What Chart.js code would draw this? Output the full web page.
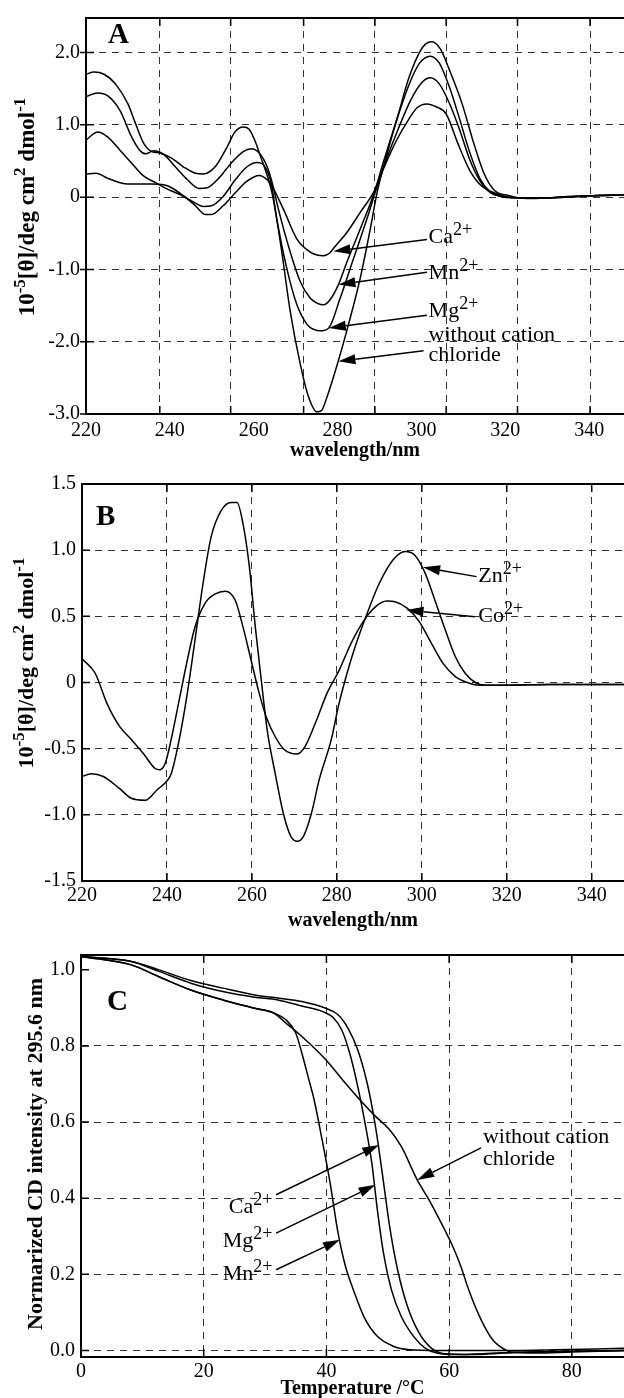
<!DOCTYPE html>
<html lang="en">
<head>
<meta charset="UTF-8" />
<title>CD spectra and melting curves</title>
<script src="https://cdn.jsdelivr.net/npm/chart.js"></script>
<style>
  body { margin: 0; background: #fff; overflow: hidden; }
  #page { position: relative; width: 624px; height: 1398px; }
  canvas { position: absolute; left: 0; }
</style>
</head>
<body>
<div id="page">
  <canvas id="chartA" width="624" height="465" style="top:0px"></canvas>
  <canvas id="chartB" width="624" height="470" style="top:465px"></canvas>
  <canvas id="chartC" width="624" height="470" style="top:935px"></canvas>
</div>
<script>
// ---------- panel A : CD spectra with Ca / Mn / Mg / no cation ----------
const aTicksX = [220, 240, 260, 280, 300, 320, 340];
const aGridX = [237.6, 254.5, 271.9, 288.9, 305.9, 322.9, 340.2];
const aTicksY = [-3, -2, -1, 0, 1, 2];
const aLabelsY = ['-3.0', '-2.0', '-1.0', '0', '1.0', '2.0'];

const aNoneX = [220, 221.9, 224.3, 227.1, 230, 231.8, 233.8, 235.7, 237.6, 240.4, 243.2, 246.1, 248, 250.8, 253.7, 255.5, 257.5, 258.9, 260.3, 261.7, 263.2, 264.4, 265.1, 266.7, 268.7, 271.1, 273, 275.1, 276.2, 277.5, 280.2, 282.6, 285.4, 287.8, 289.4, 291.8, 294.5, 297, 299.5, 301, 302.5, 304.5, 306.8, 309.7, 312.5, 314.9, 317.3, 321, 323, 326, 330, 335, 340, 348.3];
const aNoneY = [1.70, 1.73, 1.70, 1.56, 1.29, 1.02, 0.74, 0.63, 0.61, 0.54, 0.42, 0.33, 0.32, 0.42, 0.70, 0.90, 0.97, 0.94, 0.78, 0.55, 0.30, 0.05, -0.17, -0.76, -1.58, -2.31, -2.75, -2.97, -2.95, -2.76, -2.26, -1.76, -1.12, -0.44, 0.06, 0.60, 1.15, 1.65, 2.00, 2.12, 2.15, 2.05, 1.74, 1.29, 0.74, 0.33, 0.10, 0.02, -0.01, -0.02, -0.01, 0.01, 0.02, 0.03];

const aMnX = [220, 222.8, 225.2, 228.1, 230.9, 232.8, 234.2, 236.1, 238.5, 241.3, 244.2, 247, 248.9, 251.8, 254.6, 257.5, 259.4, 261.3, 263.2, 264.4, 265.9, 268.7, 271.1, 273.5, 275.2, 276.7, 278.2, 280.2, 282.2, 285.4, 288.6, 291, 294, 297, 299.5, 302.1, 304.3, 306.5, 309, 311.5, 314, 316.5, 319, 323, 330, 340, 348.3];
const aMnY = [1.39, 1.44, 1.40, 1.20, 0.83, 0.65, 0.60, 0.64, 0.59, 0.42, 0.24, 0.12, 0.13, 0.27, 0.47, 0.63, 0.67, 0.61, 0.42, 0.20, -0.17, -0.76, -1.17, -1.40, -1.47, -1.49, -1.42, -1.21, -0.90, -0.44, 0.04, 0.50, 1.05, 1.55, 1.85, 1.95, 1.85, 1.55, 1.10, 0.62, 0.25, 0.07, 0.01, -0.01, -0.01, 0.02, 0.03];

const aMgX = [220, 222.8, 225.2, 228.1, 230.9, 233.8, 236.6, 239.4, 242.3, 245.1, 248, 249.9, 252.7, 255.6, 258.4, 260.8, 262.7, 264.2, 265.5, 267.9, 270.3, 272.7, 274.3, 275.9, 277.9, 280.6, 283.8, 287, 289, 291.5, 294.5, 297.5, 300, 302.1, 304.2, 306.5, 309, 311.5, 314, 316.5, 319, 323, 330, 340, 348.3];
const aMgY = [0.79, 0.90, 0.83, 0.65, 0.47, 0.29, 0.20, 0.11, 0.04, -0.05, -0.13, -0.12, 0.01, 0.24, 0.42, 0.48, 0.42, 0.18, -0.30, -0.99, -1.49, -1.76, -1.83, -1.85, -1.81, -1.40, -0.85, -0.30, 0.07, 0.50, 0.95, 1.35, 1.58, 1.65, 1.57, 1.32, 0.95, 0.52, 0.22, 0.06, 0.01, -0.01, -0.01, 0.02, 0.03];

const aCaX = [220, 222.4, 225.2, 228.1, 230, 232.8, 235.7, 238.5, 240.4, 243.2, 246.1, 248.5, 249.9, 252.7, 255.6, 258.4, 261.3, 263.2, 264.4, 267.1, 270.3, 273.5, 275.1, 276.6, 278.2, 279, 282.2, 285.4, 288.6, 291, 294, 297, 299, 301.3, 303.5, 305.9, 308.7, 311.6, 314.4, 317.3, 320, 323, 330, 340, 348.3];
const aCaY = [0.32, 0.33, 0.26, 0.20, 0.18, 0.18, 0.18, 0.17, 0.13, 0.02, -0.12, -0.24, -0.24, -0.12, 0.06, 0.22, 0.30, 0.24, 0.15, -0.17, -0.58, -0.76, -0.80, -0.81, -0.77, -0.71, -0.49, -0.21, 0.07, 0.40, 0.78, 1.08, 1.24, 1.29, 1.25, 1.15, 0.74, 0.36, 0.15, 0.06, 0.01, -0.01, -0.01, 0.02, 0.03];

// ---------- panel B : CD spectra with Zn / Co ----------
const bTicksX = [220, 240, 260, 280, 300, 320, 340];
const bTicksY = [-1.5, -1, -0.5, 0, 0.5, 1, 1.5];
const bLabelsY = ['-1.5', '-1.0', '-0.5', '0', '0.5', '1.0', '1.5'];

const bZnX = [220, 222.2, 225, 228.8, 231.6, 234.9, 237.7, 240.1, 241, 242.9, 244.8, 246.6, 248.5, 250.4, 252.8, 255.1, 256.5, 257.9, 259.4, 260.8, 262.2, 263.6, 265.5, 267.4, 269.2, 270.7, 272.1, 274, 275.8, 278.7, 280.5, 282.4, 284.3, 287.1, 290, 293.3, 296.1, 298.4, 300.8, 303.1, 305.5, 307.9, 310.2, 312.6, 314.9, 320, 330, 340, 347.6];
const bZnY = [-0.71, -0.69, -0.71, -0.80, -0.875, -0.89, -0.81, -0.74, -0.69, -0.43, -0.08, 0.32, 0.75, 1.10, 1.30, 1.36, 1.36, 1.20, 0.875, 0.42, 0.02, -0.36, -0.69, -0.99, -1.165, -1.20, -1.165, -0.99, -0.74, -0.43, -0.16, 0.07, 0.27, 0.52, 0.75, 0.93, 0.99, 0.96, 0.825, 0.62, 0.40, 0.195, 0.07, 0.0, -0.02, -0.02, -0.015, -0.015, -0.015];

const bCoX = [220, 223.1, 225.9, 228.8, 231.6, 234.4, 237.2, 238.2, 239.6, 241, 242.9, 244.8, 246.6, 249, 251.4, 253.7, 256.1, 257.9, 259.8, 261.7, 263.6, 265.5, 267.4, 269.2, 270.7, 272.5, 274.9, 277.7, 280.5, 283.4, 286.2, 289, 291.8, 293.7, 296.6, 299.4, 302.2, 305, 307.9, 310.7, 313.5, 320, 330, 340, 347.6];
const bCoY = [0.18, 0.07, -0.16, -0.33, -0.43, -0.535, -0.65, -0.66, -0.61, -0.43, -0.13, 0.17, 0.42, 0.60, 0.67, 0.69, 0.62, 0.42, 0.17, -0.08, -0.28, -0.41, -0.50, -0.535, -0.54, -0.485, -0.31, -0.08, 0.09, 0.30, 0.46, 0.57, 0.615, 0.61, 0.56, 0.46, 0.30, 0.145, 0.045, 0.0, -0.02, -0.02, -0.015, -0.015, -0.015];

// ---------- panel C : thermal melting at 295.6 nm ----------
const cTicksX = [0, 20, 40, 60, 80];
const cTicksY = [0, 0.2, 0.4, 0.6, 0.8, 1.0];
const cLabelsY = ['0.0', '0.2', '0.4', '0.6', '0.8', '1.0'];

const cNoneX = [0, 8.2, 12.7, 17.9, 23.1, 28.3, 31.5, 33.4, 36.0, 39.9, 43.1, 45.7, 48.0, 50.3, 52.2, 54.8, 56.7, 58.7, 60.6, 61.9, 63.2, 65.2, 67.1, 69.1, 70.3, 74.2, 79.9, 88.5];
const cNoneY = [1.035, 1.013, 0.982, 0.947, 0.921, 0.899, 0.886, 0.860, 0.825, 0.764, 0.702, 0.654, 0.615, 0.580, 0.536, 0.448, 0.396, 0.335, 0.273, 0.221, 0.159, 0.081, 0.028, 0.002, -0.005, -0.007, -0.004, 0.0];

const cMnX = [0, 8.2, 12.7, 17.9, 23.1, 28.3, 31.5, 33.4, 35.0, 36.0, 37.0, 38.0, 39.3, 40.6, 41.9, 43.1, 44.4, 46.1, 48.3, 50.9, 53.5, 58.0, 64.5, 71, 77.5, 84, 88.5];
const cMnY = [1.035, 1.013, 0.982, 0.947, 0.921, 0.899, 0.886, 0.869, 0.834, 0.781, 0.720, 0.658, 0.553, 0.440, 0.308, 0.221, 0.159, 0.089, 0.037, 0.011, 0.002, 0.0, 0.0, 0.0, 0.002, 0.004, 0.006];

const cMgX = [0, 8.2, 12.7, 17.9, 23.1, 28.3, 32.1, 36.0, 39.3, 41.2, 42.5, 43.8, 45.1, 46.4, 47.4, 48.3, 49.3, 50.6, 52.2, 54.2, 56.1, 58.0, 61.3, 67.8, 77.5, 88.5];
const cMgY = [1.035, 1.022, 0.996, 0.965, 0.943, 0.928, 0.921, 0.905, 0.891, 0.873, 0.842, 0.781, 0.694, 0.588, 0.492, 0.370, 0.256, 0.159, 0.089, 0.037, 0.006, -0.007, -0.011, -0.007, -0.003, 0.0];

const cCaX = [0, 8.2, 12.7, 17.9, 23.1, 28.3, 32.1, 36.0, 39.9, 41.9, 43.5, 45.1, 46.7, 48.0, 49.1, 50.3, 51.6, 53.2, 55.1, 57.1, 59.3, 63.2, 71, 88.5];
const cCaY = [1.035, 1.022, 1.0, 0.972, 0.952, 0.934, 0.926, 0.917, 0.899, 0.882, 0.847, 0.790, 0.698, 0.588, 0.466, 0.326, 0.212, 0.116, 0.046, 0.006, -0.009, -0.011, -0.005, 0.0];

const FONT = "'Liberation Serif', 'Times New Roman', Times, serif";
const GRID = '#333';

function curve(xs, ys) {
  return {
    data: xs.map((x, i) => ({ x: x, y: ys[i] })),
    xAxisID: 'x', yAxisID: 'y',
    borderColor: '#000', borderWidth: 1.5, pointRadius: 0, fill: false,
    cubicInterpolationMode: 'monotone'
  };
}

function yAxis(min, max, ticks, labels, width, hidden) {
  return {
    type: 'linear', position: 'left', min: min, max: max,
    afterBuildTicks: s => { s.ticks = ticks.map(v => ({ value: v })); },
    afterFit: s => { s.width = width; },
    ticks: { color: '#000', font: { family: FONT, size: 20 }, padding: 6,
             callback: v => labels[ticks.indexOf(v)] },
    grid: { color: c => (c.tick && hidden.includes(c.tick.value)) ? 'rgba(0,0,0,0)' : GRID,
            lineWidth: 1, drawTicks: false, borderDash: [7, 6] },
    border: { display: false, dash: [7, 6] }
  };
}

function xAxis(min, max, ticks, title, height, titlePad, showGrid, tickPad) {
  return {
    type: 'linear', position: 'bottom', min: min, max: max,
    afterBuildTicks: s => { s.ticks = ticks.map(v => ({ value: v })); },
    afterFit: s => { s.height = height; },
    ticks: { color: '#000', font: { family: FONT, size: 20 }, padding: tickPad, maxRotation: 0, autoSkip: false,
             callback: v => String(v) },
    grid: { display: showGrid, color: GRID, lineWidth: 1, drawTicks: false, borderDash: [7, 6] },
    border: { display: false, dash: [7, 6] },
    title: { display: true, text: title, color: '#000', font: { family: FONT, size: 20, weight: 'bold' },
             padding: { top: 0, bottom: titlePad } }
  };
}

// text made of normal and raised pieces: [[text, isSup], ...]
function richText(ctx, parts, x, y, size, weight, align, supScale, rise) {
  const fontFor = sup => weight + ' ' + Math.round(sup ? size * supScale : size) + 'px ' + FONT;
  let w = 0;
  parts.forEach(p => { ctx.font = fontFor(p[1]); w += ctx.measureText(p[0]).width; });
  let cx = align === 'center' ? x - w / 2 : (align === 'right' ? x - w : x);
  ctx.textAlign = 'left';
  parts.forEach(p => {
    ctx.font = fontFor(p[1]);
    ctx.fillText(p[0], cx, p[1] ? y - rise : y);
    cx += ctx.measureText(p[0]).width;
  });
}

function arrow(ctx, x1, y1, x2, y2) {
  const a = Math.atan2(y2 - y1, x2 - x1), L = 17, W = 5;
  const bx = x2 - L * Math.cos(a), by = y2 - L * Math.sin(a);
  ctx.beginPath(); ctx.moveTo(x1, y1); ctx.lineTo(bx, by); ctx.stroke();
  ctx.beginPath();
  ctx.moveTo(x2, y2);
  ctx.lineTo(bx + W * Math.sin(a), by - W * Math.cos(a));
  ctx.lineTo(bx - W * Math.sin(a), by + W * Math.cos(a));
  ctx.closePath(); ctx.fill();
}

// frame, inward ticks, panel letter, y title, labels and arrows
function decor(cfg) {
  return {
    id: 'decor',
    afterDraw(chart) {
      const { ctx, chartArea: a, scales } = chart;
      const xs = scales[cfg.gridX], ys = scales.y;
      ctx.save();
      ctx.strokeStyle = '#000'; ctx.fillStyle = '#000';
      ctx.lineWidth = 1.5;
      ctx.beginPath();
      xs.ticks.forEach(t => {
        const px = xs.getPixelForValue(t.value);
        if (px < a.left + 2 || px > a.right - 1) return;
        ctx.moveTo(px, a.bottom); ctx.lineTo(px, a.bottom - 8);
        ctx.moveTo(px, a.top); ctx.lineTo(px, a.top + 8);
      });
      ys.ticks.forEach(t => {
        const py = ys.getPixelForValue(t.value);
        ctx.moveTo(a.left - cfg.outTick, py); ctx.lineTo(a.left + 8, py);
      });
      ctx.stroke();
      ctx.lineWidth = 2;
      ctx.beginPath();
      ctx.moveTo(a.right, a.top); ctx.lineTo(a.left, a.top);
      ctx.lineTo(a.left, a.bottom); ctx.lineTo(a.right, a.bottom);
      ctx.stroke();

      ctx.textBaseline = 'alphabetic';
      ctx.textAlign = 'left';
      ctx.font = 'bold 29px ' + FONT;
      ctx.fillText(cfg.letter, cfg.letterAt[0], cfg.letterAt[1]);

      ctx.save();
      ctx.translate(cfg.yTitleAt[0], cfg.yTitleAt[1]);
      ctx.rotate(-Math.PI / 2);
      ctx.textBaseline = 'middle';
      richText(ctx, cfg.yTitle, 0, 0, cfg.yTitleSize, 'bold', 'center', 0.75, 7);
      ctx.restore();

      ctx.textBaseline = 'alphabetic';
      cfg.notes.forEach(n => {
        richText(ctx, n.parts, xs.getPixelForValue(n.at[0]), ys.getPixelForValue(n.at[1]),
                 21.5, 'normal', n.align || 'left', 0.85, 8);
      });
      ctx.lineWidth = 1.5;
      cfg.arrows.forEach(r => {
        arrow(ctx, xs.getPixelForValue(r.from[0]), ys.getPixelForValue(r.from[1]),
              xs.getPixelForValue(r.to[0]), ys.getPixelForValue(r.to[1]));
      });
      ctx.restore();
    }
  };
}

const cdTitle = [['10'], ['-5', 1], ['[\u03b8]/deg cm'], ['2', 1], [' dmol'], ['-1', 1]];
const sup2 = name => [[name], ['2+', 1]];

function baseOptions(padTop, scales) {
  return {
    responsive: false, animation: false, devicePixelRatio: 1,
    layout: { padding: { top: padTop, right: 0, bottom: 0, left: 0 } },
    plugins: { legend: { display: false }, tooltip: { enabled: false } },
    scales: scales
  };
}

// panel A
const scalesA = {
  x: xAxis(220, 348.3, aTicksX, 'wavelength/nm', 51, 2, false, 5),
  xg: {
    type: 'linear', position: 'top', min: 220, max: 348.3,
    afterBuildTicks: s => { s.ticks = aGridX.map(v => ({ value: v })); },
    afterFit: s => { s.height = 0; },
    ticks: { display: false },
    grid: { color: GRID, lineWidth: 1, drawTicks: false, borderDash: [7, 6] },
    border: { display: false, dash: [7, 6] }
  },
  y: yAxis(-3, 2.478, aTicksY, aLabelsY, 86, [])
};
new Chart(document.getElementById('chartA'), {
  type: 'line',
  data: { datasets: [curve(aNoneX, aNoneY), curve(aMnX, aMnY), curve(aMgX, aMgY), curve(aCaX, aCaY)] },
  options: baseOptions(13, scalesA),
  plugins: [decor({
    gridX: 'xg', outTick: 6, letter: 'A', letterAt: [108, 43],
    yTitle: cdTitle, yTitleAt: [28, 207], yTitleSize: 22.5,
    notes: [
      { parts: sup2('Ca'), at: [301.7, -0.632] },
      { parts: sup2('Mn'), at: [301.7, -1.132] },
      { parts: sup2('Mg'), at: [301.7, -1.661] },
      { parts: [['without cation']], at: [301.7, -1.989] },
      { parts: [['chloride']], at: [301.7, -2.272] }
    ],
    arrows: [
      { from: [301.3, -0.586], to: [279.0, -0.75] },
      { from: [301.3, -1.04], to: [280.2, -1.21] },
      { from: [301.3, -1.634], to: [277.9, -1.81] },
      { from: [300.5, -2.126], to: [280.2, -2.27] }
    ]
  })]
});

// panel B
new Chart(document.getElementById('chartB'), {
  type: 'line',
  data: { datasets: [curve(bZnX, bZnY), curve(bCoX, bCoY)] },
  options: baseOptions(19, {
    x: xAxis(220, 347.6, bTicksX, 'wavelength/nm', 54, 2, true, 3),
    y: yAxis(-1.5, 1.5, bTicksY, bLabelsY, 82, [])
  }),
  plugins: [decor({
    gridX: 'x', outTick: 0, letter: 'B', letterAt: [96, 60],
    yTitle: cdTitle, yTitleAt: [27, 198], yTitleSize: 22,
    notes: [
      { parts: sup2('Zn'), at: [313.3, 0.762] },
      { parts: sup2('Co'), at: [313.3, 0.459] }
    ],
    arrows: [
      { from: [312.9, 0.800], to: [300.3, 0.870] },
      { from: [312.5, 0.497], to: [296.4, 0.548] }
    ]
  })]
});

// panel C
new Chart(document.getElementById('chartC'), {
  type: 'line',
  data: { datasets: [curve(cNoneX, cNoneY), curve(cMnX, cMnY), curve(cMgX, cMgY), curve(cCaX, cCaY)] },
  options: baseOptions(20, {
    x: xAxis(0, 88.5, cTicksX, 'Temperature /\u00b0C', 48, 4, true, 3),
    y: yAxis(-0.0173, 1.039, cTicksY, cLabelsY, 81, [1.0])
  }),
  plugins: [decor({
    gridX: 'x', outTick: 0, letter: 'C', letterAt: [107, 75],
    yTitle: [['Normarized CD intensity at 295.6 nm']], yTitleAt: [36, 219], yTitleSize: 21.5,
    notes: [
      { parts: sup2('Ca'), at: [31.2, 0.361], align: 'right' },
      { parts: sup2('Mg'), at: [31.2, 0.273], align: 'right' },
      { parts: sup2('Mn'), at: [31.2, 0.186], align: 'right' },
      { parts: [['without cation']], at: [65.5, 0.545] },
      { parts: [['chloride']], at: [65.5, 0.488] }
    ],
    arrows: [
      { from: [31.8, 0.409], to: [48.6, 0.540] },
      { from: [31.8, 0.308], to: [48.0, 0.435] },
      { from: [31.8, 0.212], to: [42.2, 0.291] },
      { from: [65.2, 0.532], to: [54.8, 0.448] }
    ]
  })]
});
</script>
</body>
</html>
